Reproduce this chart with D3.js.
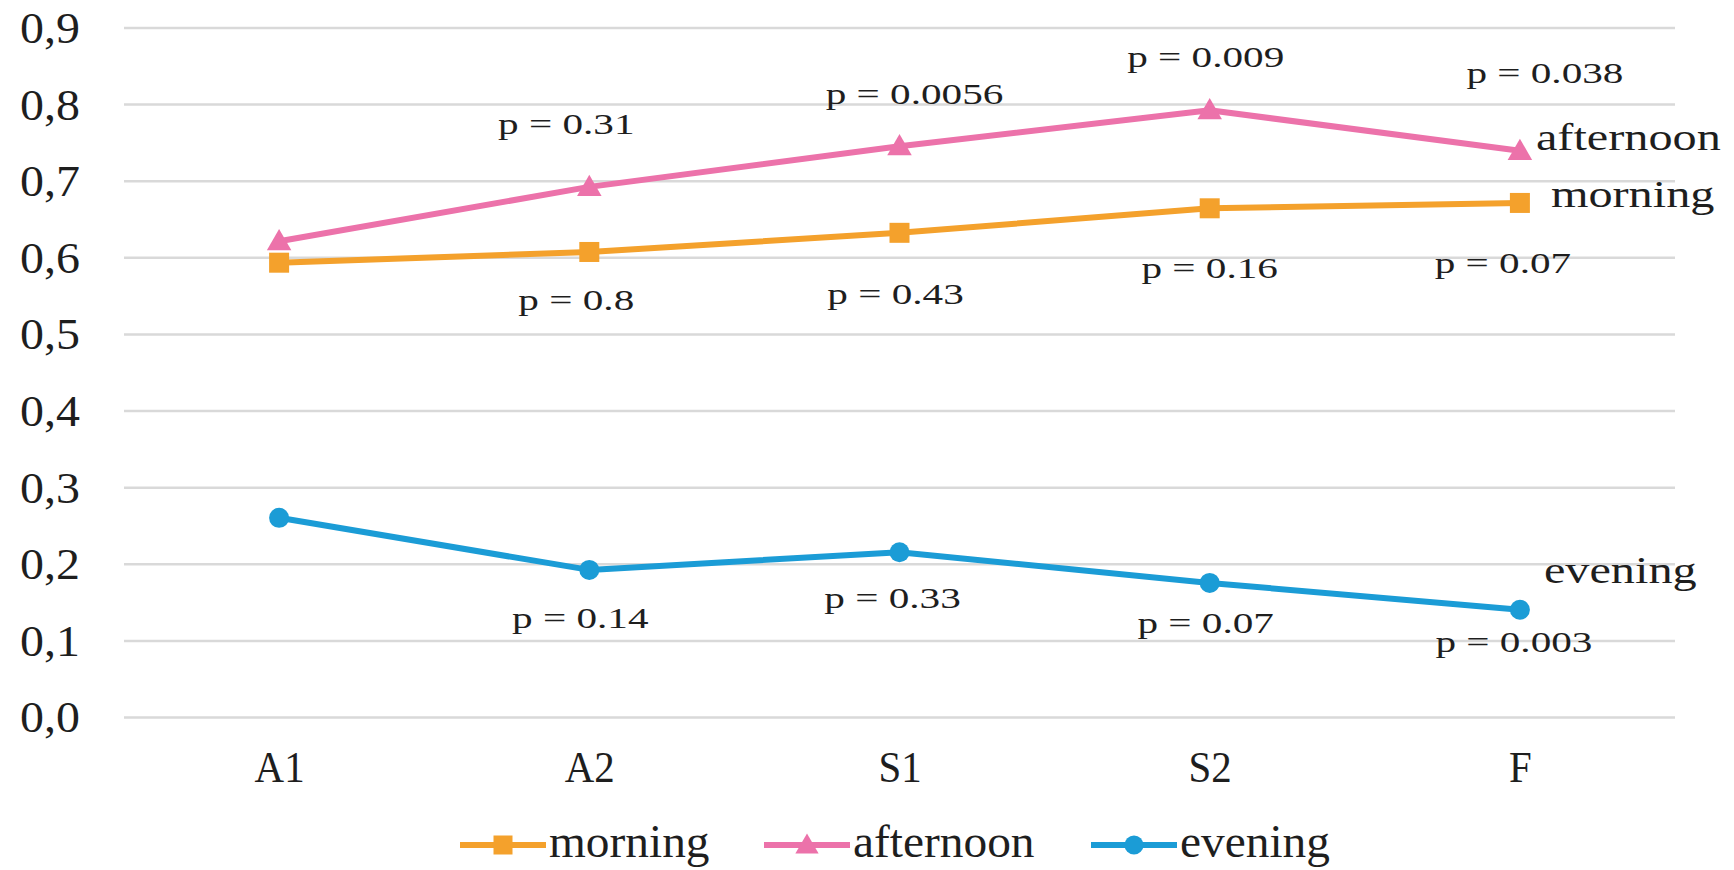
<!DOCTYPE html>
<html>
<head>
<meta charset="utf-8">
<script src="https://cdn.jsdelivr.net/npm/d3@7"></script>
<style>
  html, body { margin: 0; padding: 0; background: #ffffff; }
  svg { display: block; }
</style>
</head>
<body>
<svg id="chart" width="1734" height="870"></svg>
<script>
// ---------------- DATA ----------------
const categories = ["A1", "A2", "S1", "S2", "F"];
const seriesNames = ["morning", "afternoon", "evening"];
const morning   = [0.593, 0.607, 0.632, 0.664, 0.671];
const afternoon = [0.621, 0.692, 0.745, 0.792, 0.739];
const evening   = [0.260, 0.192, 0.215, 0.175, 0.140];
const yTicks = [0.0, 0.1, 0.2, 0.3, 0.4, 0.5, 0.6, 0.7, 0.8, 0.9];
const pMorning   = [null, "p = 0.8", "p = 0.43", "p = 0.16", "p = 0.07"];
const pAfternoon = [null, "p = 0.31", "p = 0.0056", "p = 0.009", "p = 0.038"];
const pEvening   = [null, "p = 0.14", "p = 0.33", "p = 0.07", "p = 0.003"];

// ---------------- LAYOUT / STYLE ----------------
const W = 1734, H = 870;
const plot = { left: 124, right: 1675, top: 27.5, bottom: 717 };
const colors = { morning: "#F4A12C", afternoon: "#EC72AA", evening: "#1B9CD6" };
const FONT = "'Liberation Serif', 'Times New Roman', serif";
const textColor = "#1e1e1e";

// label offsets relative to data point (pixels): [dx, dy(baseline)]
const pOffsets = {
  morning:   [null, [-13, 58], [-4, 71], [0, 70], [-17, 70]],
  afternoon: [null, [-23, -53], [15, -42], [-4, -43], [25, -68]],
  evening:   [null, [-9, 58], [-7, 56], [-4, 50], [-6, 42]]
};
const endLabelOffsets = { morning: [31, 4], afternoon: [16, -1], evening: [24, -27] };

const svg = d3.select("#chart");
svg.append("rect").attr("width", W).attr("height", H).attr("fill", "#ffffff");

const x = d3.scalePoint().domain(categories).range([plot.left, plot.right]).padding(0.5);
const y = d3.scaleLinear().domain([0, 0.9]).range([plot.bottom, plot.top]);

function stext(g, px, py, str, size, sx, anchor) {
  return g.append("text")
    .attr("transform", `translate(${px},${py}) scale(${sx},1)`)
    .attr("text-anchor", anchor)
    .attr("font-family", FONT)
    .attr("font-size", size)
    .attr("fill", textColor)
    .text(str);
}

// ---------- Y axis with gridlines ----------
const yAxisSx = 1.09;
const yAxis = d3.axisLeft(y)
  .tickValues(yTicks)
  .tickSizeInner(-(plot.right - plot.left))
  .tickSizeOuter(0)
  .tickPadding(44 / yAxisSx)
  .tickFormat(d => d.toFixed(1).replace(".", ","));
const gy = svg.append("g").attr("transform", `translate(${plot.left},0)`).call(yAxis);
gy.select(".domain").remove();
gy.selectAll(".tick line").attr("stroke", "#d9d9d9").attr("stroke-width", 2.5);
gy.selectAll(".tick text")
  .attr("font-family", FONT).attr("font-size", 44).attr("fill", textColor)
  .attr("dy", "0.34em")
  .attr("transform", `scale(${yAxisSx},1)`);

// ---------- X axis ----------
const xAxis = d3.axisBottom(x).tickSize(0).tickPadding(0);
const gx = svg.append("g").attr("transform", `translate(0,${plot.bottom})`).call(xAxis);
gx.select(".domain").remove();
gx.selectAll(".tick text")
  .attr("font-family", FONT).attr("font-size", 44).attr("fill", textColor)
  .attr("y", 65).attr("dy", 0).attr("x", 0)
  .attr("transform", "scale(0.93,1)");

// ---------- Series ----------
const seriesData = { morning, afternoon, evening };
const line = d3.line().x((d, i) => x(categories[i])).y(d => y(d));

seriesNames.forEach(name => {
  svg.append("path")
    .datum(seriesData[name])
    .attr("fill", "none")
    .attr("stroke", colors[name])
    .attr("stroke-width", 6)
    .attr("stroke-linejoin", "round")
    .attr("d", line);
});

function drawMarker(g, name, cx, cy, scale) {
  const s = scale || 1;
  if (name === "morning") {
    const a = 20 * s;
    g.append("rect").attr("x", cx - a / 2).attr("y", cy - a / 2).attr("width", a).attr("height", a)
      .attr("fill", colors[name]);
  } else if (name === "afternoon") {
    const sym = d3.symbol().type(d3.symbolTriangle).size(260 * s * s);
    g.append("path").attr("d", sym()).attr("transform", `translate(${cx},${cy + 2 * s})`)
      .attr("fill", colors[name]);
  } else {
    g.append("circle").attr("cx", cx).attr("cy", cy).attr("r", 10 * s).attr("fill", colors[name]);
  }
}

const gm = svg.append("g");
seriesNames.forEach(name => {
  seriesData[name].forEach((v, i) => drawMarker(gm, name, x(categories[i]), y(v)));
});

// ---------- p-value labels ----------
const pData = { morning: pMorning, afternoon: pAfternoon, evening: pEvening };
const gp = svg.append("g");
seriesNames.forEach(name => {
  pData[name].forEach((txt, i) => {
    if (!txt) return;
    const off = pOffsets[name][i];
    stext(gp, x(categories[i]) + off[0], y(seriesData[name][i]) + off[1], txt, 29, 1.42, "middle");
  });
});

// ---------- end-of-line series labels ----------
const last = categories.length - 1;
seriesNames.forEach(name => {
  const off = endLabelOffsets[name];
  stext(svg, x(categories[last]) + off[0], y(seriesData[name][last]) + off[1], name, 38, 1.27, "start");
});

// ---------- Legend ----------
const legend = svg.append("g");
const legendStarts = [460, 764, 1091];
const legendY = 845, legendBase = 857, lineLen = 86;
seriesNames.forEach((name, i) => {
  const lx = legendStarts[i];
  legend.append("line")
    .attr("x1", lx).attr("x2", lx + lineLen)
    .attr("y1", legendY).attr("y2", legendY)
    .attr("stroke", colors[name]).attr("stroke-width", 6);
  drawMarker(legend, name, lx + lineLen / 2, legendY, 0.95);
  stext(legend, lx + lineLen + 3, legendBase, name, 46, 1.03, "start");
});
</script>
</body>
</html>
